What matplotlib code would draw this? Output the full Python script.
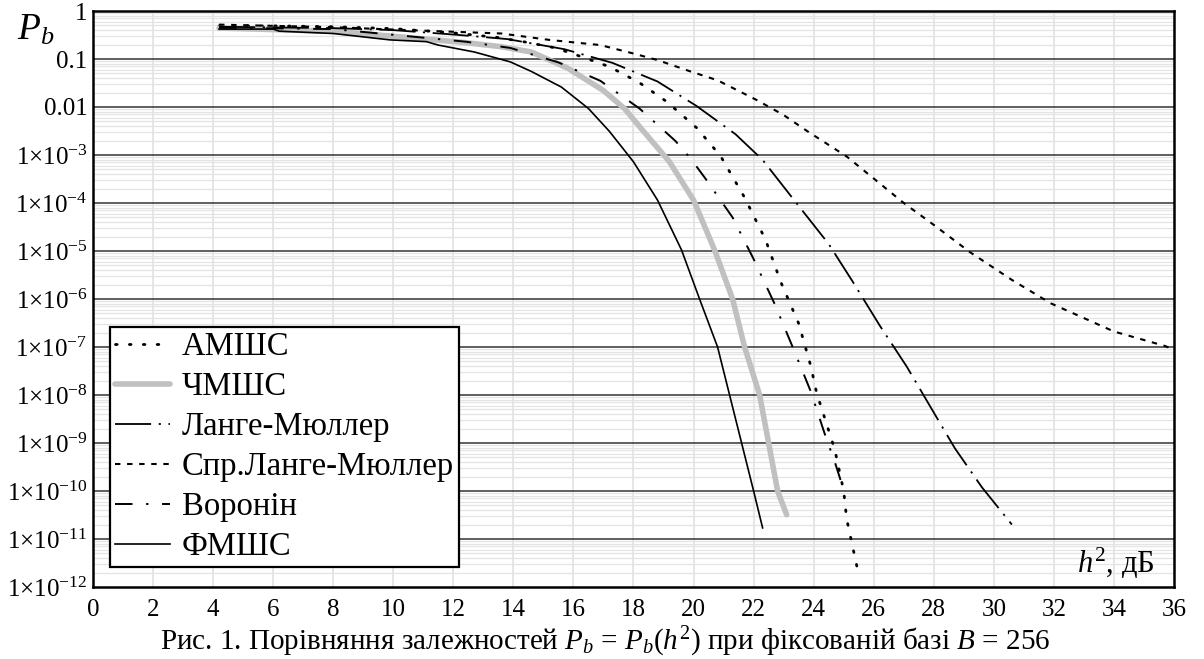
import numpy as np
import matplotlib
matplotlib.use("Agg")
import matplotlib.pyplot as plt
from matplotlib.lines import Line2D
from matplotlib.ticker import FixedLocator, FixedFormatter, NullFormatter

plt.rcParams['font.family'] = ['Liberation Serif', 'DejaVu Serif']
plt.rcParams['mathtext.fontset'] = 'custom'
plt.rcParams['mathtext.rm'] = 'Liberation Serif'
plt.rcParams['mathtext.it'] = 'Liberation Serif:italic'

# АМШС
am_x = [4.2, 6.0, 8.0, 10.0, 12.0, 13.5, 14.5, 15.4, 16.3, 17.2, 18.2, 19.1, 20.1,
        20.9, 21.7, 22.4, 22.9, 23.5, 23.9, 24.1, 24.7, 25.0, 25.1, 25.3, 25.5]
am_p = [0.49, 0.49, 0.47, 0.43, 0.35, 0.28, 0.22, 0.17, 0.11, 6.9e-2, 3.2e-2, 1.3e-2, 3.7e-3,
        9.5e-4, 1.3e-4, 1.7e-5, 2.3e-6, 3.1e-7, 4.1e-8, 1.1e-8, 7.4e-10, 1.0e-10, 2.6e-11, 6.8e-12, 1.8e-12]

# ЧМШС
chm_x = [4.2, 8.0, 10.2, 12.4, 13.6, 14.6, 15.8, 17.0, 17.7, 18.3, 19.2, 20.0, 20.7,
         21.3, 21.7, 22.2, 22.5, 22.8, 23.1]
chm_p = [0.44, 0.38, 0.29, 0.22, 0.18, 0.14, 6.5e-2, 2.2e-2, 9.3e-3, 3.3e-3, 7.2e-4, 1.15e-4, 1.05e-5,
         1.0e-6, 1.0e-7, 1.0e-8, 1.0e-9, 1.0e-10, 3.2e-11]

# Ланге-Мюллер
lm_x = [4.2, 8.0, 10.0, 12.1, 13.8, 15.7, 17.3, 18.8, 20.1, 21.4, 22.3, 23.5, 24.5,
        25.3, 26.2, 27.1, 27.9, 28.7, 29.6, 30.6]
lm_p = [0.47, 0.44, 0.40, 0.32, 0.26, 0.16, 8.3e-2, 3.4e-2, 1.05e-2, 2.7e-3, 7.9e-4, 8.7e-5, 1.4e-5,
        2.3e-6, 2.8e-7, 3.9e-8, 5.5e-9, 7.8e-10, 1.2e-10, 2.0e-11]

# Спр.Ланге-Мюллер
slm_x = [4.2, 8.0, 10.5, 12.5, 13.6, 15.2, 16.9, 18.0, 18.8, 19.9, 20.8, 22.1, 23.0,
         23.8, 25.1, 27.0, 28.0, 29.2, 30.6, 31.9, 33.0, 34.0, 35.7, 36.0]
slm_p = [0.52, 0.46, 0.40, 0.36, 0.34, 0.25, 0.195, 0.13, 9.5e-2, 5.5e-2, 3.6e-2, 1.4e-2, 6.8e-3,
         3.1e-3, 9.3e-4, 1.0e-4, 3.5e-5, 9.5e-6, 2.5e-6, 8.1e-7, 4.0e-7, 2.1e-7, 1.05e-7, 8.7e-8]

# Воронін
vor_x = [4.2, 8.0, 10.7, 12.4, 13.9, 15.5, 16.9, 18.2, 19.4, 19.9, 20.4, 21.3, 22.0,
         22.7, 23.3, 23.9, 24.4, 24.7, 25.0]
vor_p = [0.45, 0.42, 0.29, 0.23, 0.17, 8.5e-2, 3.5e-2, 9.3e-3, 1.95e-3, 8.5e-4, 3.2e-4, 5.0e-5, 6.8e-6,
         7.9e-7, 1.0e-7, 1.2e-8, 1.35e-9, 4.1e-10, 1.05e-10]

# ФМШС
fm_x = [4.2, 6.0, 6.2, 8.0, 9.9, 11.1, 11.5, 12.7, 13.9, 14.6, 15.6, 16.5, 17.2,
        18.0, 18.8, 19.6, 20.2, 20.8, 21.2, 21.6, 22.0, 22.3]
fm_p = [0.42, 0.42, 0.38, 0.34, 0.25, 0.23, 0.195, 0.14, 8.7e-2, 5.5e-2, 2.6e-2, 9.3e-3, 3.1e-3,
        7.2e-4, 1.15e-4, 1.05e-5, 1.0e-6, 1.0e-7, 1.0e-8, 1.0e-9, 1.0e-10, 1.7e-11]

labels = ["АМШС", "ЧМШС", "Ланге-Мюллер", "Спр.Ланге-Мюллер", "Воронін", "ФМШС"]
x_ticks = list(range(0, 37, 2))
y_exps = list(range(0, -13, -1))

fig = plt.figure(figsize=(12.04, 6.59), dpi=100)
ax = fig.add_axes([0.0772, 0.1093, 0.8979, 0.874])

# сітка
ax.set_xlim(0, 36)
ax.set_yscale('log')
ax.set_ylim(1e-12, 1)
for xv in x_ticks[1:-1]:
    ax.axvline(xv, color='#e6e6e6', lw=1.4, zorder=0)
for e in y_exps[1:]:
    for m in range(2, 10):
        ax.axhline(m * 10.0 ** e, color='#e4e4e4', lw=0.9, zorder=0)
for e in y_exps[1:-1]:
    ax.axhline(10.0 ** e, color='#333333', lw=1.1, zorder=1)

styles = [
    dict(color='black', lw=2.0, ls=(0, (0.6, 4.4)), dash_capstyle='round'),
    dict(color='#c0c0c0', lw=4.0, ls='-', solid_capstyle='round'),
    dict(color='black', lw=1.3, ls=(0, (20, 4.2, 1.2, 4.2))),
    dict(color='black', lw=1.5, ls=(0, (2.6, 3.2))),
    dict(color='black', lw=1.4, ls=(0, (9, 7, 1.2, 7))),
    dict(color='black', lw=1.2, ls='-'),
]
series = [(am_x, am_p), (chm_x, chm_p), (lm_x, lm_p), (slm_x, slm_p), (vor_x, vor_p), (fm_x, fm_p)]
for (xs, ps), st in zip(series, styles):
    ax.plot(xs, ps, zorder=3, **st)

# підписи осей
ax.xaxis.set_major_locator(FixedLocator(x_ticks))
ax.set_xticklabels([str(v) for v in x_ticks])
ylabels = []
for e in y_exps:
    if e == 0:
        ylabels.append('1')
    elif e == -1:
        ylabels.append('0.1')
    elif e == -2:
        ylabels.append('0.01')
    else:
        ylabels.append(r'1$\times$10$^{%d}$' % e)
ax.yaxis.set_major_locator(FixedLocator([10.0 ** e for e in y_exps]))
ax.yaxis.set_major_formatter(FixedFormatter(ylabels))
ax.yaxis.set_minor_formatter(NullFormatter())
ax.tick_params(axis='both', which='both', length=0, labelsize=18, pad=4)
ax.tick_params(axis='x', pad=9)
for sp in ax.spines.values():
    sp.set_linewidth(1.8)
    sp.set_color('black')

# легенда
handles = [Line2D([], [], **st) for st in styles]
leg = ax.legend(handles, labels, loc='lower left', bbox_to_anchor=(0.0157, 0.0347),
                borderaxespad=0, fontsize=23.5, frameon=True, fancybox=False,
                handlelength=1.7, handletextpad=0.35, labelspacing=0.29, borderpad=0.15)
leg.get_frame().set_edgecolor('black')
leg.get_frame().set_linewidth(1.6)
leg.get_frame().set_alpha(1)

ax.text(0.910, 0.025, r'$h^2$, дБ', transform=ax.transAxes, fontsize=22,
        ha='left', va='baseline', zorder=5)
fig.text(0.014, 0.94, r'$P_b$', fontsize=27, ha='left', va='baseline')
fig.text(0.503, 0.013, r'Рис. 1. Порівняння залежностей $P_b$ = $P_b$($h^2$) при фіксованій базі $B$ = 256',
         fontsize=21, ha='center', va='baseline')

fig.savefig('out.png', dpi=100)
